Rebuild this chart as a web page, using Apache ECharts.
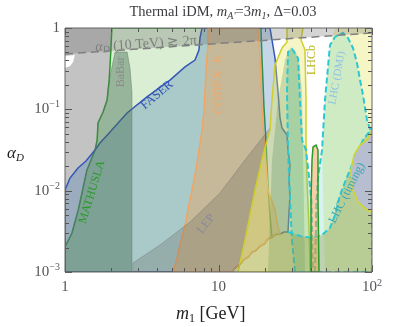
<!DOCTYPE html>
<html><head><meta charset="utf-8">
<script src="https://cdn.jsdelivr.net/npm/echarts@6/dist/echarts.min.js"></script>
<style>html,body{margin:0;padding:0;background:#fff}#c{width:399px;height:327px}</style>
</head><body><div id="c"></div>
<script>
// ---- data: [m1 (GeV), alpha_D] ----
const X_TICKS = [1,2,3,4,5,6,7,8,9,10,20,30,40,50,60,70,80,90,100];
const Y_TICKS = [0.001,0.002,0.003,0.004,0.005,0.006,0.007,0.008,0.009,0.01,0.02,0.03,0.04,0.05,0.06,0.07,0.08,0.09,0.1,0.2,0.3,0.4,0.5,0.6,0.7,0.8,0.9,1];
const MATHUSLA_LEFT = [[1,0.00203],[1.11,0.00302],[1.22,0.00579],[1.39,0.0180],[1.57,0.0316],[1.62,0.0420],[1.64,0.0679],[1.77,0.0928],[1.88,0.130],[1.94,0.229],[1.99,0.537],[2.02,1]];
const MATHUSLA_RIGHT = [[18.9,1],[19.2,0.428],[19.8,0.104],[20.4,0.0397],[21.0,0.0117],[21.6,0.00502],[22.3,0.00269]];
const LOWER_EDGE = [[28.4,0.0031],[26.7,0.0031],[25.2,0.00293],[23.7,0.00293],[22.3,0.00269],[21.0,0.00255],[19.8,0.00221],[18.6,0.00209],[17.6,0.00186],[16.5,0.00176],[15.6,0.00153],[14.7,0.00144],[13.8,0.00125],[13.0,0.00115],[12.2,0.001]];
const FASER_LEFT = [[1,0.0102],[1.078,0.0143],[1.215,0.0190],[1.37,0.0232],[1.568,0.0316],[1.69,0.0386],[1.965,0.0526],[2.535,0.0902],[3.42,0.142],[4.83,0.229],[6.05,0.332],[7.03,0.404],[7.46,0.537],[7.58,0.754],[7.81,1]];
const FASER_RIGHT = [[21.65,1],[23.34,0.428],[24.42,0.163],[25.16,0.0782],[25.93,0.0590],[27.94,0.0484],[28.37,0.0316],[29.24,0.0207],[28.8,0.0135],[29.24,0.00885],[28.8,0.00547],[28.37,0.0031]];
const CODEX_LEFT = [[8.54,1],[8.54,0.618],[8.29,0.305],[8.17,0.173],[8.05,0.0981],[7.81,0.0557],[7.46,0.0316],[7.13,0.0180],[6.82,0.0117],[6.52,0.00768],[6.33,0.00579],[6.05,0.00378],[5.61,0.00215],[5.37,0.00149],[5.05,0.001]];
const CODEX_RIGHT = [[18.08,1],[18.64,0.428],[19.2,0.104],[19.79,0.0420],[21.01,0.0102],[23.34,0.00579],[24.42,0.00358],[25.16,0.00293]];
const LEP_EDGE = [[2.77,0.00129],[4.16,0.00215],[6.52,0.00412],[10.23,0.00937],[14.88,0.0238],[21.65,0.0590]];
const BABAR_EDGE = [[2.12,0.507],[2.54,0.507],[2.65,0.322],[2.73,0.163],[2.73,0.001]];
const LHCB_LEFT = [[13.4,0.001],[14.88,0.00247],[17.29,0.0102],[19.5,0.0275],[21.65,0.0557],[22.31,0.130],[23.34,0.351],[25.93,0.568],[27.94,0.673],[27.94,1]];
const LHCB_RIGHT = [[35.5,1],[34.5,0.712],[36.6,0.537],[37.15,0.130],[37.15,0.0420],[37.7,0.0135],[38.9,0.00328],[39.5,0.001]];
const LHCB_HIGH = [[49.4,0.001],[47.24,0.0316],[50.15,0.173],[53.25,0.618],[57.41,1],[100,1],[100,0.001]];
const DMJ_HIGH = [[42.5,0.001],[43.5,0.00768],[44.5,0.0147],[47.24,0.0316],[49.4,0.130],[53.25,0.618],[57.41,0.776],[64.73,0.868],[69.78,0.754],[75.19,0.568],[79.87,0.371],[83.54,0.229],[87.39,0.150],[92.79,0.0739],[100,0.0484],[100,0.001]];
const DMJ_LOW = [[31.51,0.001],[30.12,0.00247],[29.24,0.00768],[28.37,0.0316],[27.94,0.163],[28.37,0.507],[30.12,0.552],[32.96,0.428],[33.96,0.130],[34.99,0.0420],[37.15,0.0316],[38.9,0.0147],[40.3,0.00768],[41.3,0.001]];
const PEAK = [[21.01,0.001],[22.31,0.0238],[24.42,0.130],[27.12,0.404],[29.24,0.568],[31.51,0.537],[33.45,0.404],[34.99,0.163],[35.52,0.0316],[36.61,0.001]];
const TIMING_EDGE = [[28.37,0.0031],[33.96,0.00277],[40.67,0.00262],[47.24,0.00285],[53.25,0.00348],[57.41,0.00502],[61.86,0.00885],[68.73,0.0147],[79.87,0.0291],[87.39,0.0420],[100,0.0590]];
const TIMING_BLOB = [[100,0.0526],[92.79,0.0420],[83.54,0.0364],[76.33,0.0275],[72.98,0.0180],[74.08,0.0108],[81.08,0.00726],[91.42,0.00595],[100,0.00547]];
const ZPOLE = [[40.06,0.001],[40.06,0.00768],[40.67,0.0238],[41.28,0.0344],[43.18,0.0364],[44.49,0.0316],[44.49,0.00768],[45.16,0.001]];
const NOTCH = [[1,0.453],[1.16,0.466],[1.13,0.382],[1.08,0.341],[1,0.322]];
const PERTURB = [[1,0.479],[100,0.868]];

// ---- annotations ----
const SERIF = '"Liberation Serif","DejaVu Serif",serif';
const LABELS = [
  {text:'{i|α}{s|D}{r| (10 TeV) ≳ 2π}', at:[3.37,0.636], rot:3.9, color:'#7e7e7e', size:14},
  {text:'BaBar', at:[2.32,0.288], rot:90, color:'#8c8c8c', size:12},
  {text:'FASER', at:[3.98,0.150], rot:40, color:'#3556b8', size:12.5},
  {text:'MATHUSLA', at:[1.50,0.00963], rot:73, color:'#2c9a2c', size:12},
  {text:'CODEX−b', at:[10.08,0.199], rot:90, color:'#f0a868', size:13},
  {text:'LEP', at:[8.29,0.00389], rot:52, color:'#8a8a9a', size:12},
  {text:'LHCb', at:[40.67,0.404], rot:90, color:'#b8b820', size:12},
  {text:'LHC (DMJ)', at:[59.2,0.243], rot:80, color:'#8ec0e8', size:11},
  {text:'LHC (timing)', at:[68.73,0.00937], rot:63, color:'#3aa9b5', size:12}
];

const chart = echarts.init(document.getElementById('c'));

function poly(pts, fill, stroke, lw, dash) {
  return {type:'custom', coordinateSystem:'cartesian2d', clip:true, silent:true, data:[[1,1]],
    renderItem:(p, api) => ({type:'polygon', shape:{points: pts.map(q => api.coord(q))},
      style:{fill: fill, stroke: stroke || null, lineWidth: lw || 0, lineDash: dash || null}})};
}
function line(pts, stroke, lw, dash) {
  return {type:'custom', coordinateSystem:'cartesian2d', clip:true, silent:true, data:[[1,1]],
    renderItem:(p, api) => ({type:'polyline', shape:{points: pts.map(q => api.coord(q))},
      style:{fill: null, stroke: stroke, lineWidth: lw, lineDash: dash || null}})};
}

const GRAY = [[1,1], ...MATHUSLA_LEFT.slice().reverse()];
const MATH = [[1,0.001], ...MATHUSLA_LEFT, ...MATHUSLA_RIGHT, ...LOWER_EDGE.filter(p => p[0] < 22.2)];
const FASER = [[1,0.001], ...FASER_LEFT, ...FASER_RIGHT, ...LOWER_EDGE.slice(1)];
const CODEX = [...CODEX_LEFT, ...LOWER_EDGE.filter(p => p[0] < 25.1).reverse(), ...CODEX_RIGHT.slice().reverse()];
const LEP = [[2.77,0.001], ...LEP_EDGE, ...LHCB_LEFT.filter(p => p[1] < 0.057).reverse()];
const BABAR = [...BABAR_EDGE, [1,0.001], ...MATHUSLA_LEFT.filter(p => p[1] < 0.3)];
const LHCB = [...LHCB_LEFT, ...LHCB_RIGHT];
const TIMING = [...LOWER_EDGE.slice().reverse(), ...TIMING_EDGE.slice(1), [100,0.001]];
const BAND = [[1,1],[100,1],PERTURB[1],PERTURB[0]];

const series = [
  poly(GRAY, '#c3c3c3'),
  poly(NOTCH, '#ffffff'),
  poly(MATH, 'rgba(130,200,110,0.3)', '#2a9a2a', 1.5),
  poly(FASER, 'rgba(60,120,180,0.3)', '#3556b8', 1.5),
  poly(CODEX, 'rgba(240,160,80,0.4)', '#f2a462', 1.5),
  poly(BABAR, 'rgba(70,110,85,0.45)', 'rgba(110,120,110,0.6)', 0.8),
  poly(LEP, 'rgba(90,90,80,0.25)', 'rgba(110,110,110,0.5)', 0.8),
  poly(LHCB, 'rgba(225,225,90,0.35)', '#cfcf2c', 1.5),
  poly(LHCB_HIGH, 'rgba(225,225,90,0.35)'),
  poly(PEAK, 'rgba(70,130,80,0.25)'),
  poly(DMJ_LOW, 'rgba(90,190,150,0.3)', '#2cc8d2', 2, [6,3]),
  poly(DMJ_HIGH, 'rgba(70,200,190,0.22)', '#2cc8d2', 2, [6,3]),
  poly(TIMING, 'rgba(140,150,60,0.35)'),
  line(TIMING_EDGE, '#2cc8d2', 2, [6,3]),
  poly(TIMING_BLOB, '#b6bed0', '#d6d626', 1.5),
  poly(ZPOLE, 'rgba(240,160,80,0.5)', '#2a9a2a', 1.5),
  poly(BAND, 'rgba(100,100,100,0.28)'),
  line(PERTURB, '#808080', 1.5, [8,5]),
  {type:'custom', coordinateSystem:'cartesian2d', clip:false, silent:true,
    data: LABELS.map(l => l.at),
    renderItem:(p, api) => {
      const l = LABELS[p.dataIndex];
      const c = api.coord(l.at);
      return {type:'text', x:c[0], y:c[1], rotation: l.rot*Math.PI/180,
        style:{text:l.text, fill:l.color, fontFamily:SERIF, fontSize:l.size, align:'center', verticalAlign:'middle',
          rich:{i:{fontStyle:'italic', fontSize:l.size, fontFamily:SERIF, fill:l.color, lineHeight:16},
                s:{fontStyle:'italic', fontSize:l.size*0.7, fontFamily:SERIF, fill:l.color, verticalAlign:'bottom', lineHeight:10},
                r:{fontSize:l.size, fontFamily:SERIF, fill:l.color, lineHeight:16}}}};
    }},
  {type:'custom', coordinateSystem:'cartesian2d', clip:false, silent:true, data:[[1,1]],
    renderItem:(p, api) => {
      const ch = [];
      const tl = api.coord([1,1]), br = api.coord([100,0.001]);
      const isMajor = v => Math.abs(Math.log10(v) - Math.round(Math.log10(v))) < 1e-9;
      const st = {stroke:'#555', lineWidth:1};
      X_TICKS.forEach(v => {
        const x = Math.round(api.coord([v,0.001])[0]) + 0.5, len = isMajor(v) ? 7 : 4;
        ch.push({type:'line', shape:{x1:x, y1:br[1], x2:x, y2:br[1]-len}, style:st});
        ch.push({type:'line', shape:{x1:x, y1:tl[1], x2:x, y2:tl[1]+len}, style:st});
      });
      Y_TICKS.forEach(v => {
        const y = Math.round(api.coord([1,v])[1]) + 0.5, len = isMajor(v) ? 7 : 4;
        ch.push({type:'line', shape:{x1:tl[0], y1:y, x2:tl[0]+len, y2:y}, style:st});
        ch.push({type:'line', shape:{x1:br[0], y1:y, x2:br[0]-len, y2:y}, style:st});
      });
      ch.push({type:'rect', shape:{x:tl[0], y:tl[1], width:br[0]-tl[0], height:br[1]-tl[1]}, style:{fill:null, stroke:'#666', lineWidth:1}});
      return {type:'group', children:ch};
    }}
];

const sup = {fontSize:10, fontFamily:SERIF, fill:'#222', verticalAlign:'top', lineHeight:10};
const num = {fontSize:15, fontFamily:SERIF, fill:'#222', lineHeight:19};
const T = {fontWeight:'normal', fontFamily:SERIF, fill:'#333'};
chart.setOption({
  animation:false,
  textStyle:{fontFamily:SERIF},
  title:{text:"{r|Thermal iDM, }{i|m}{s|A'}{r|=3}{i|m}{s|1}{r|, Δ=0.03}", left:218, top:-1, textAlign:'center',
    textStyle:{fontWeight:'normal', rich:{r:Object.assign({fontSize:14.5, lineHeight:17}, T),
      i:Object.assign({fontSize:14.5, fontStyle:'italic', lineHeight:17}, T),
      s:Object.assign({fontSize:10, fontStyle:'italic', verticalAlign:'bottom', lineHeight:10}, T)}}},
  grid:{left:65, right:27, top:28, bottom:55, show:false},
  xAxis:{type:'log', logBase:10, min:1, max:100, axisLine:{show:false}, axisTick:{show:false}, splitLine:{show:false},
    axisLabel:{margin:6, formatter: v => { const e = Math.round(Math.log10(v)); return e===0?'{n|1}': e===1?'{n|10}':'{n|10}{sup|'+e+'}'; }, rich:{n:num, sup:sup}}},
  yAxis:{type:'log', logBase:10, min:0.001, max:1, axisLine:{show:false}, axisTick:{show:false}, splitLine:{show:false},
    axisLabel:{margin:5, formatter: v => { const e = Math.round(Math.log10(v)); return e===0?'{n|1}':'{n|10}{sup|−'+(-e)+'}'; }, rich:{n:num, sup:sup}}},
  graphic:[
    {type:'text', left:7, top:145, style:{text:'{i|α}{s|D}', rich:{i:{fontSize:17, fontStyle:'italic', fontFamily:SERIF, fill:'#222', lineHeight:20}, s:{fontSize:11, fontStyle:'italic', fontFamily:SERIF, fill:'#222', verticalAlign:'bottom', lineHeight:12}}}},
    {type:'text', left:176, top:305, style:{text:'{i|m}{s|1}{r| [GeV]}', rich:{i:{fontSize:18, fontStyle:'italic', fontFamily:SERIF, fill:'#222', lineHeight:21}, s:{fontSize:12, fontFamily:SERIF, fill:'#222', verticalAlign:'bottom', lineHeight:12}, r:{fontSize:18, fontFamily:SERIF, fill:'#222', lineHeight:21}}}}
  ],
  series: series
});
</script></body></html>
